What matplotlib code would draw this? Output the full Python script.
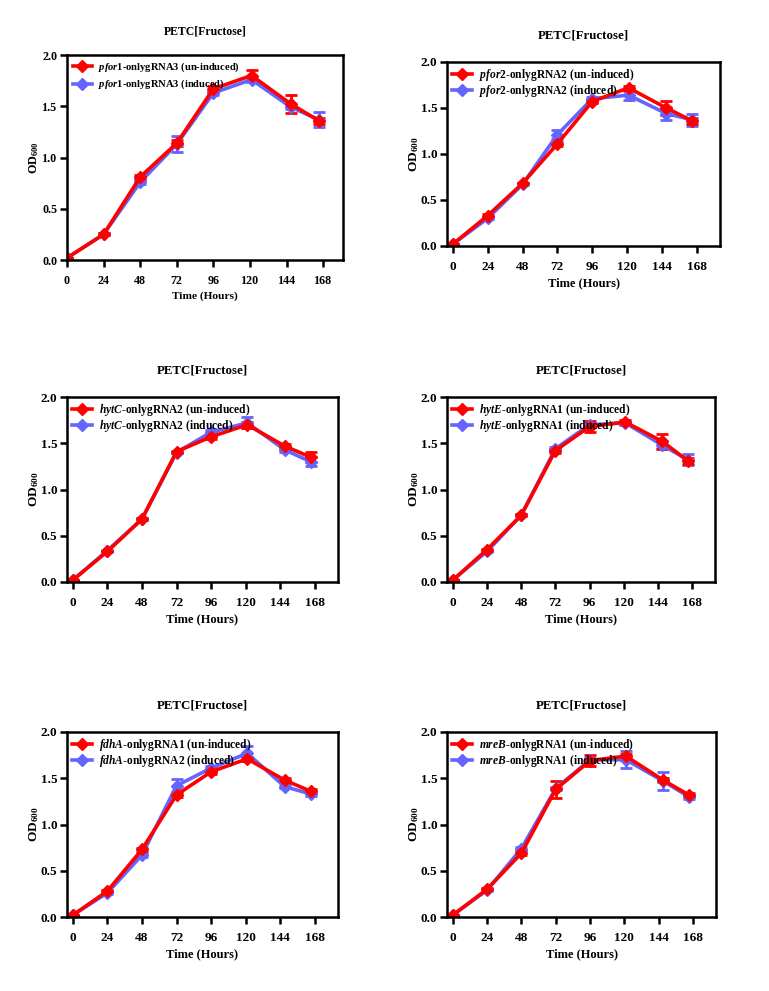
import numpy as np
import matplotlib
matplotlib.use("Agg")
import matplotlib.pyplot as plt
from matplotlib.lines import Line2D

plt.rcParams['font.family'] = 'Liberation Serif'
plt.rcParams['font.weight'] = 'bold'
plt.rcParams['mathtext.fontset'] = 'custom'
plt.rcParams['mathtext.rm'] = 'Liberation Serif:bold'
plt.rcParams['mathtext.it'] = 'Liberation Serif:bold:italic'
plt.rcParams['mathtext.bf'] = 'Liberation Serif:bold'

# time points (hours), as plotted
hours = [0, 24, 48, 72, 96, 121, 147, 165]
xticks = [0, 24, 48, 72, 96, 120, 144, 168]

genes = ["pfor1", "pfor2", "hytC", "hytE", "fdhA", "mreB"]
lab_un = ["onlygRNA3", "onlygRNA2", "onlygRNA2", "onlygRNA1", "onlygRNA1", "onlygRNA1"]
lab_in = ["onlygRNA3", "onlygRNA2", "onlygRNA2", "onlygRNA1", "onlygRNA2", "onlygRNA1"]

# un-induced (red)
un_mean = [
    [0.02, 0.25, 0.81, 1.14, 1.67, 1.80, 1.52, 1.36],
    [0.02, 0.33, 0.68, 1.11, 1.57, 1.72, 1.50, 1.36],
    [0.02, 0.33, 0.68, 1.41, 1.57, 1.70, 1.47, 1.35],
    [0.02, 0.35, 0.72, 1.42, 1.68, 1.73, 1.52, 1.31],
    [0.02, 0.28, 0.73, 1.32, 1.57, 1.71, 1.48, 1.36],
    [0.02, 0.30, 0.69, 1.38, 1.69, 1.74, 1.48, 1.32],
]
un_err = [
    [0.0, 0.01, 0.02, 0.03, 0.03, 0.05, 0.09, 0.03],
    [0.0, 0.02, 0.01, 0.02, 0.02, 0.02, 0.08, 0.03],
    [0.0, 0.01, 0.01, 0.01, 0.02, 0.03, 0.02, 0.05],
    [0.0, 0.01, 0.01, 0.02, 0.06, 0.02, 0.08, 0.03],
    [0.0, 0.01, 0.02, 0.02, 0.02, 0.02, 0.02, 0.02],
    [0.0, 0.01, 0.02, 0.09, 0.06, 0.02, 0.02, 0.02],
]

# induced (blue)
in_mean = [
    [0.02, 0.25, 0.76, 1.13, 1.63, 1.76, 1.49, 1.37],
    [0.02, 0.30, 0.67, 1.21, 1.60, 1.64, 1.44, 1.37],
    [0.02, 0.34, 0.68, 1.40, 1.62, 1.72, 1.43, 1.30],
    [0.02, 0.33, 0.72, 1.44, 1.70, 1.72, 1.48, 1.32],
    [0.02, 0.26, 0.67, 1.42, 1.61, 1.77, 1.41, 1.33],
    [0.02, 0.29, 0.74, 1.39, 1.70, 1.70, 1.47, 1.30],
]
in_err = [
    [0.0, 0.01, 0.02, 0.08, 0.02, 0.02, 0.02, 0.07],
    [0.0, 0.01, 0.01, 0.05, 0.02, 0.05, 0.07, 0.07],
    [0.0, 0.01, 0.01, 0.01, 0.02, 0.06, 0.02, 0.05],
    [0.0, 0.01, 0.01, 0.02, 0.02, 0.02, 0.03, 0.06],
    [0.0, 0.01, 0.02, 0.07, 0.02, 0.08, 0.02, 0.02],
    [0.0, 0.01, 0.02, 0.02, 0.02, 0.09, 0.10, 0.02],
]

RED = "#ff0000"
BLUE = "#6464ff"

W, H = 769, 991
fig = plt.figure(figsize=(W / 100, H / 100), dpi=100)

# axes boxes in pixels: left, right, top, bottom
boxes = [
    (67, 343, 55, 260),
    (447, 720, 62, 246),
    (67, 338, 397, 582),
    (447, 715, 397, 582),
    (67, 338, 732, 917),
    (447, 716, 732, 917),
]
xlims = [(0, 181), (-4, 184), (-4, 184), (-4, 184), (-4, 184), (-4, 184)]
# first panel was pasted in a little smaller
scale = [0.91, 1, 1, 1, 1, 1]

for i in range(6):
    l, r, t, b = boxes[i]
    s = scale[i]
    first = (i == 0)
    ax = fig.add_axes([l / W, 1 - b / H, (r - l) / W, (b - t) / H])

    ax.errorbar(hours, in_mean[i], yerr=in_err[i], color=BLUE, lw=2.6,
                marker='D', ms=6.5, capsize=4, elinewidth=2, capthick=2)
    ax.errorbar(hours, un_mean[i], yerr=un_err[i], color=RED, lw=2.6,
                marker='D', ms=6.5, capsize=4, elinewidth=2, capthick=2)

    ax.set_xlim(*xlims[i])
    ax.set_ylim(0, 2.0)
    ax.set_xticks(xticks)
    ax.set_yticks([0, 0.5, 1.0, 1.5, 2.0])
    ax.set_yticklabels(["0.0", "0.5", "1.0", "1.5", "2.0"])
    for sp in ax.spines.values():
        sp.set_linewidth(1.8)
    ax.tick_params(width=1.8, length=5, labelsize=9.5 * s)
    ax.tick_params(axis='x', pad=6)
    ax.tick_params(axis='y', pad=2)
    for lab in ax.get_xticklabels() + ax.get_yticklabels():
        lab.set_fontweight('bold')

    ax.set_title("PETC[Fructose]", fontsize=9.3 * s, fontweight='bold',
                 pad=15 if first else 17)
    ax.set_xlabel("Time (Hours)", fontsize=9 * s, fontweight='bold', labelpad=3)
    ax.set_ylabel(r"OD$_{600}$", fontsize=9.6 * s, fontweight='bold',
                  labelpad=1 if first else 0)

    handles = [
        Line2D([], [], color=RED, lw=2.6, marker='D', ms=6.5),
        Line2D([], [], color=BLUE, lw=2.6, marker='D', ms=6.5),
    ]
    labels = [
        r"$\it{%s}$-%s (un-induced)" % (genes[i], lab_un[i]),
        r"$\it{%s}$-%s (induced)" % (genes[i], lab_in[i]),
    ]
    ax.legend(handles, labels, loc='upper left', frameon=False,
              fontsize=8.3 * s, handlelength=1.8, borderaxespad=0.2,
              labelspacing=0.35 if first else 0.02,
              handletextpad=0.6, borderpad=0.35 if first else 0.2)

fig.savefig("out.png", dpi=100)
